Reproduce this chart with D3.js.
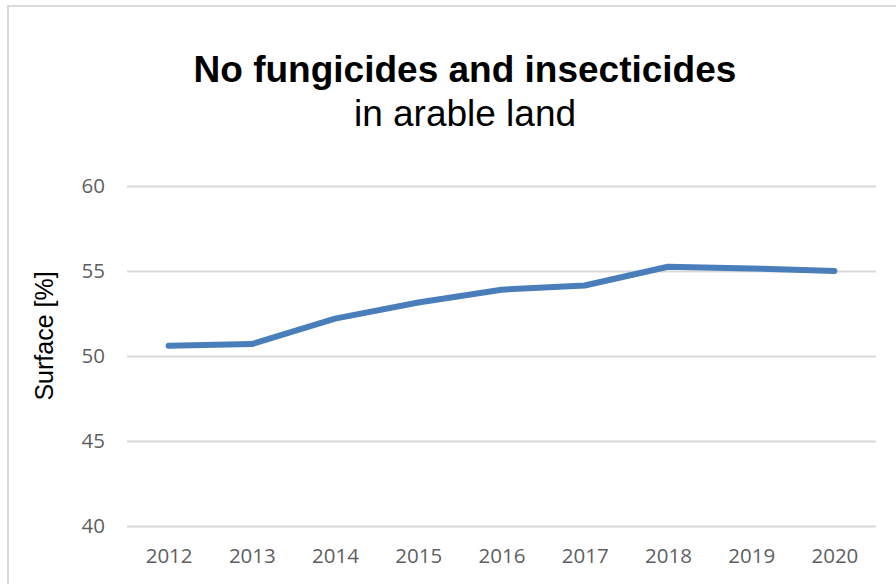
<!DOCTYPE html>
<html>
<head>
<meta charset="utf-8">
<script src="https://cdn.jsdelivr.net/npm/d3@7"></script>
<style>
  body { margin: 0; background: #fff; }
  svg { display: block; }
</style>
</head>
<body>
<svg id="chart" width="896" height="584"></svg>
<script>
const years = ["2012", "2013", "2014", "2015", "2016", "2017", "2018", "2019", "2020"];
const surface = [50.6, 50.7, 52.2, 53.15, 53.9, 54.15, 55.25, 55.15, 55.0];
const yTicks = [40, 45, 50, 55, 60];

const svg = d3.select("#chart");
const margin = { left: 127, right: 20, top: 186, bottom: 58 };
const width = 896 - margin.left - margin.right;
const height = 584 - margin.top - margin.bottom;

// outer frame
svg.append("rect")
  .attr("x", 8).attr("y", 6)
  .attr("width", 900).attr("height", 600)
  .attr("fill", "none")
  .attr("stroke", "#d9d9d9")
  .attr("stroke-width", 2);

const x = d3.scalePoint().domain(years).range([0, width]).padding(0.5);
const y = d3.scaleLinear().domain([40, 60]).range([height, 0]);

const g = svg.append("g").attr("transform", `translate(${margin.left},${margin.top})`);

// gridlines + y labels
const yAxis = g.append("g")
  .call(d3.axisLeft(y).tickValues(yTicks).tickSize(-width).tickPadding(22))
  .call((a) => a.select(".domain").remove());
yAxis.selectAll(".tick line").attr("stroke", "#d9d9d9").attr("stroke-width", 2);
yAxis.selectAll(".tick text")
  .attr("fill", "#5f5f5f")
  .style("font-family", "Open Sans, sans-serif")
  .style("font-size", "20.5px");

// x labels
const xAxis = g.append("g")
  .attr("transform", `translate(0,${height})`)
  .call(d3.axisBottom(x).tickSize(0).tickPadding(22))
  .call((a) => a.select(".domain").remove());
xAxis.selectAll(".tick text")
  .attr("fill", "#5f5f5f")
  .style("font-family", "Open Sans, sans-serif")
  .style("font-size", "20.5px");

// line
const line = d3.line()
  .x((d, i) => x(years[i]))
  .y((d) => y(d));

g.append("path")
  .datum(surface)
  .attr("d", line)
  .attr("fill", "none")
  .attr("stroke", "#4a7ebb")
  .attr("stroke-width", 6)
  .attr("stroke-linecap", "round")
  .attr("stroke-linejoin", "round");

// titles
svg.append("text")
  .attr("x", 465).attr("y", 82)
  .attr("text-anchor", "middle")
  .style("font-family", "Liberation Sans, Arial, sans-serif")
  .style("font-size", "37px")
  .style("font-weight", "bold")
  .text("No fungicides and insecticides");

svg.append("text")
  .attr("x", 465).attr("y", 126)
  .attr("text-anchor", "middle")
  .style("font-family", "Liberation Sans, Arial, sans-serif")
  .style("font-size", "37px")
  .text("in arable land");

svg.append("text")
  .attr("transform", "translate(53,336) rotate(-90)")
  .attr("text-anchor", "middle")
  .style("font-family", "Liberation Sans, Arial, sans-serif")
  .style("font-size", "25px")
  .text("Surface [%]");
</script>
</body>
</html>
